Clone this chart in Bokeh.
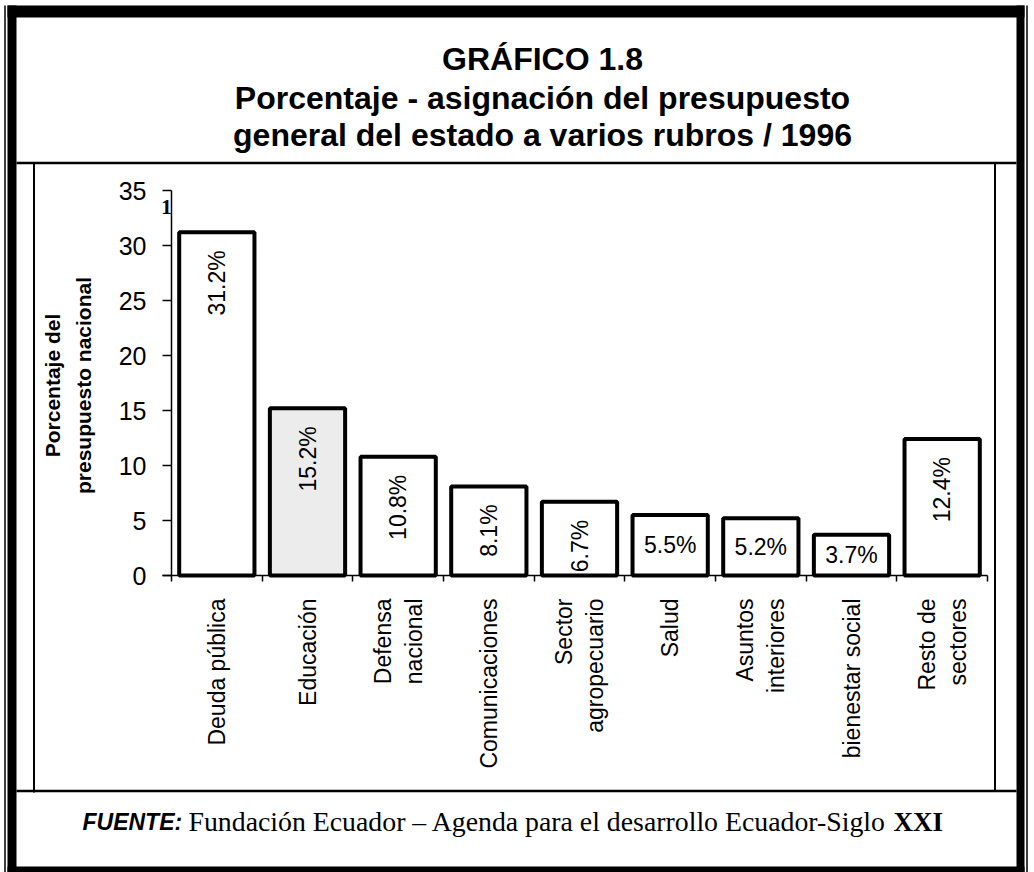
import math
from bokeh.plotting import figure
from bokeh.models import Range1d, LinearAxis, FixedTicker, Label, ColumnDataSource
from bokeh.embed import file_html
from bokeh.resources import INLINE
from bokeh.core.properties import value

# ---------------- data ----------------
categorias = ["Deuda pública", "Educación", "Defensa\nnacional", "Comunicaciones",
              "Sector\nagropecuario", "Salud", "Asuntos\ninteriores",
              "bienestar social", "Resto de\nsectores"]
porcentajes = [31.2, 15.2, 10.8, 8.1, 6.7, 5.5, 5.2, 3.7, 12.4]
y_ticks = [0, 5, 10, 15, 20, 25, 30, 35]
titulo = ["GRÁFICO 1.8",
          "Porcentaje - asignación del presupuesto",
          "general del estado a varios rubros / 1996"]
titulo_eje_y = ["Porcentaje del", "presupuesto nacional"]
fuente_etiqueta = "FUENTE:"
fuente_texto = "Fundación Ecuador – Agenda para el desarrollo Ecuador-Siglo"
fuente_siglo = "XXI"
categoria_destacada = "Educación"

# ---------------- layout helpers (page pixels -> data) ----------------
W, H = 1034, 872
AX_X, AX_Y = 171, 575          # page px of axis origin
CAT_W = (987 - 171) / len(categorias)
PX_UNIT = 11.0


def X(px):
    return (px - AX_X) / CAT_W - 0.5


def Y(py):
    return (AX_Y - py) / PX_UNIT


p = figure(width=W, height=H,
           x_range=Range1d(X(0), X(W)),
           y_range=Range1d(Y(H), Y(0)),
           x_axis_type=None, y_axis_type=None,
           toolbar_location=None, output_backend="svg",
           min_border=0, outline_line_color=None,
           background_fill_color="white", border_fill_color="white")
p.xgrid.visible = False
p.ygrid.visible = False

# ---------------- frame decoration ----------------
# thick outer bands: top, left, right, bottom
p.quad(left=[X(7), X(7), X(1016), X(7)],
       right=[X(1024), X(16), X(1024), X(1024)],
       top=[Y(5), Y(5), Y(5), Y(866)],
       bottom=[Y(17), Y(872), Y(872), Y(872)],
       fill_color="black", line_color=None)
# thin outer lines
p.segment(x0=[X(4.5), X(1026.5)], y0=[Y(5), Y(5)],
          x1=[X(4.5), X(1026.5)], y1=[Y(872), Y(872)],
          line_color="black", line_width=1.5)
# inner separators
p.segment(x0=[X(16), X(16)], y0=[Y(162.5), Y(790.5)],
          x1=[X(1016), X(1016)], y1=[Y(162.5), Y(790.5)],
          line_color="black", line_width=2.5)
p.segment(x0=[X(33.5), X(994.5)], y0=[Y(162.5), Y(162.5)],
          x1=[X(33.5), X(994.5)], y1=[Y(792), Y(790.5)],
          line_color="black", line_width=2)

# ---------------- bars ----------------
idx = list(range(len(categorias)))
fills = ["#ececec" if c == categoria_destacada else "white" for c in categorias]
src = ColumnDataSource(dict(x=idx, top=porcentajes, fill=fills))
p.vbar(x="x", top="top", bottom=0, width=0.83, source=src,
       fill_color="fill", line_color="black", line_width=4)

# value labels
rot = [i for i, v in enumerate(porcentajes) if v > 6]
hor = [i for i, v in enumerate(porcentajes) if v <= 6]
src_rot = ColumnDataSource(dict(x=[idx[i] for i in rot],
                                y=[porcentajes[i] for i in rot],
                                t=[f"{porcentajes[i]}%" for i in rot]))
src_hor = ColumnDataSource(dict(x=[idx[i] for i in hor],
                                y=[porcentajes[i] / 2 for i in hor],
                                t=[f"{porcentajes[i]}%" for i in hor]))
p.text(x="x", y="y", text="t", source=src_rot, angle=math.pi / 2,
       text_align="right", text_baseline="middle", y_offset=18,
       text_font=value("Liberation Sans"), text_font_size="23px", text_color="black")
p.text(x="x", y="y", text="t", source=src_hor,
       text_align="center", text_baseline="middle",
       text_font=value("Liberation Sans"), text_font_size="23px", text_color="black")

# ---------------- axes ----------------
yaxis = LinearAxis(fixed_location=X(AX_X), ticker=FixedTicker(ticks=y_ticks),
                   bounds=(y_ticks[0], y_ticks[-1]),
                   major_tick_out=9, major_tick_in=0,
                   minor_tick_out=0, minor_tick_in=0,
                   axis_line_width=1.5, major_tick_line_width=1.5,
                   axis_line_color="black", major_tick_line_color="black",
                   major_label_text_font="Liberation Sans",
                   major_label_text_font_size="25px",
                   major_label_text_color="black",
                   major_label_standoff=16)
p.add_layout(yaxis, "left")

xaxis = LinearAxis(fixed_location=0,
                   ticker=FixedTicker(ticks=idx,
                                      minor_ticks=[i - 0.5 for i in range(len(categorias) + 1)]),
                   bounds=(X(162), len(categorias) - 0.5),
                   major_tick_out=0, major_tick_in=0,
                   minor_tick_out=6, minor_tick_in=0,
                   axis_line_width=1.5, minor_tick_line_width=1.5,
                   axis_line_color="black", minor_tick_line_color="black",
                   major_label_overrides={i: c for i, c in enumerate(categorias)},
                   major_label_orientation=math.pi / 2,
                   major_label_text_font="Liberation Sans",
                   major_label_text_font_size="23px",
                   major_label_text_color="black",
                   major_label_standoff=17)
p.add_layout(xaxis, "below")

# y axis title (two lines)
for txt, px in zip(titulo_eje_y, [52, 83]):
    p.add_layout(Label(x=X(px), y=Y(385), text=txt, angle=math.pi / 2,
                       text_align="center", text_baseline="middle",
                       text_font="Liberation Sans", text_font_style="bold",
                       text_font_size="21px", text_color="black"))

# stray mark at axis top
p.add_layout(Label(x=X(166), y=Y(206), text="1", text_align="center",
                   text_baseline="middle", text_font="Liberation Serif",
                   text_font_style="bold", text_font_size="21px", text_color="black"))

# ---------------- title ----------------
for txt, base in zip(titulo, [58, 97, 134]):
    p.add_layout(Label(x=X(542), y=Y(base), text=txt, text_align="center",
                       text_baseline="alphabetic", text_font="Liberation Sans",
                       text_font_style="bold", text_font_size="32px", text_color="black"))

# ---------------- footer ----------------
p.add_layout(Label(x=X(82), y=Y(821), text=fuente_etiqueta, text_align="left",
                   text_baseline="alphabetic", text_font="Liberation Sans",
                   text_font_style="bold italic", text_font_size="23px", text_color="black"))
p.add_layout(Label(x=X(188), y=Y(821), text=fuente_texto, text_align="left",
                   text_baseline="alphabetic", text_font="Liberation Serif",
                   text_font_size="27.8px", text_color="black"))
p.add_layout(Label(x=X(893), y=Y(821), text=fuente_siglo, text_align="left",
                   text_baseline="alphabetic", text_font="Liberation Serif",
                   text_font_style="bold", text_font_size="27px", text_color="black"))

open("out.html", "w").write(file_html(p, INLINE))
